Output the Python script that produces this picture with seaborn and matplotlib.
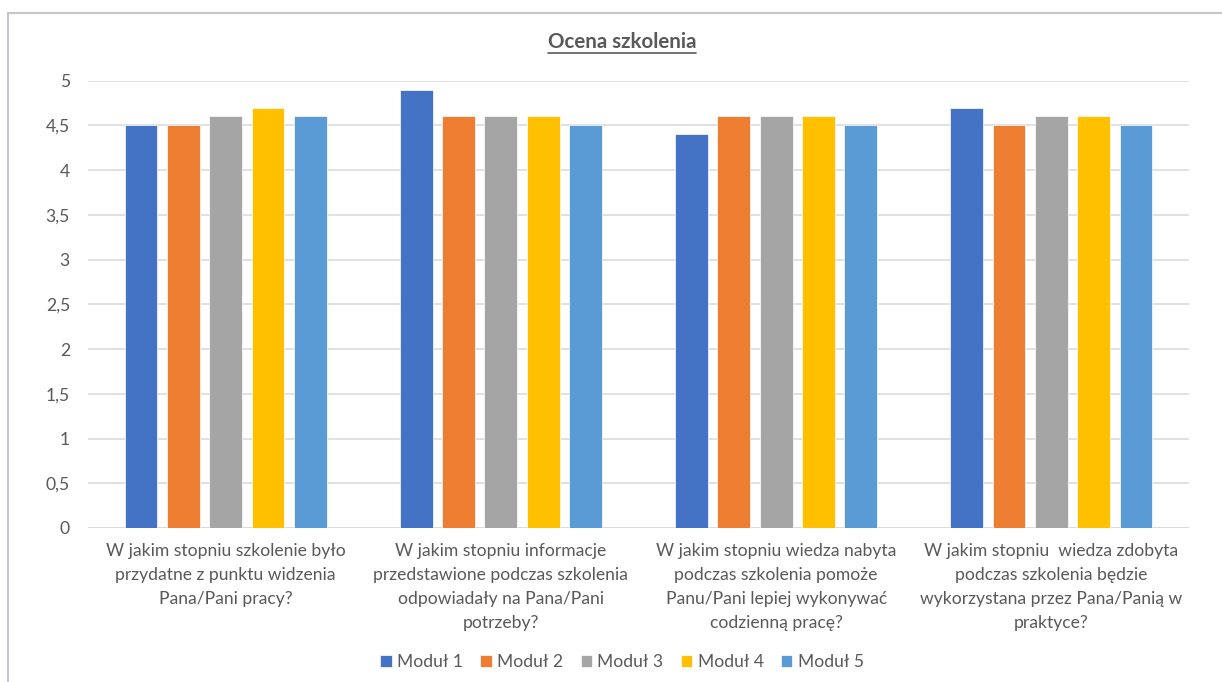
import matplotlib
matplotlib.use("Agg")
import matplotlib.pyplot as plt
from matplotlib.lines import Line2D
import seaborn as sns
import pandas as pd

categories = [
    "W jakim stopniu szkolenie było\nprzydatne z punktu widzenia\nPana/Pani pracy?",
    "W jakim stopniu informacje\nprzedstawione podczas szkolenia\nodpowiadały na Pana/Pani\npotrzeby?",
    "W jakim stopniu wiedza nabyta\npodczas szkolenia pomoże\nPanu/Pani lepiej wykonywać\ncodzienną pracę?",
    "W jakim stopniu  wiedza zdobyta\npodczas szkolenia będzie\nwykorzystana przez Pana/Panią w\npraktyce?",
]
modules = ["Moduł 1", "Moduł 2", "Moduł 3", "Moduł 4", "Moduł 5"]
modul1 = [4.5, 4.9, 4.4, 4.7]
modul2 = [4.5, 4.6, 4.6, 4.5]
modul3 = [4.6, 4.6, 4.6, 4.6]
modul4 = [4.7, 4.6, 4.6, 4.6]
modul5 = [4.6, 4.5, 4.5, 4.5]
yticks = [0, 0.5, 1, 1.5, 2, 2.5, 3, 3.5, 4, 4.5, 5]
ytick_labels = ["0", "0,5", "1", "1,5", "2", "2,5", "3", "3,5", "4", "4,5", "5"]
title = "Ocena szkolenia"
colors = ["#4472C4", "#ED7D31", "#A5A5A5", "#FFC000", "#5B9BD5"]

series = [modul1, modul2, modul3, modul4, modul5]
rows = []
for m, vals in zip(modules, series):
    for c, v in zip(categories, vals):
        rows.append({"pytanie": c, "moduł": m, "ocena": v})
df = pd.DataFrame(rows)

sns.set_theme(style="white")
plt.rcParams["font.family"] = ["Lato", "DejaVu Sans"]
text_color = "#595959"

fig = plt.figure(figsize=(12.22, 6.82), dpi=100)
ax = fig.add_axes([88 / 1222, 1 - 528 / 682, (1189 - 88) / 1222, (528 - 80.7) / 682])

sns.barplot(data=df, x="pytanie", y="ocena", hue="moduł", order=categories,
            hue_order=modules, palette=colors, saturation=1, width=0.768,
            gap=0.225, edgecolor="white", linewidth=0.5, ax=ax, legend=True,
            zorder=3)

ax.set_ylim(0, 5)
ax.set_yticks(yticks)
ax.set_yticklabels(ytick_labels)
ax.yaxis.grid(True, color="#D9D9D9", linewidth=1.1, zorder=0)
ax.set_axisbelow(True)
for s in ax.spines.values():
    s.set_visible(False)
ax.axhline(0, color="#D9D9D9", linewidth=1.1, zorder=1)
ax.set_xlabel("")
ax.set_ylabel("")
ax.tick_params(axis="both", length=0, colors=text_color, labelsize=12.6)
ax.tick_params(axis="y", pad=13)
ax.tick_params(axis="x", pad=11)
for lab in ax.get_xticklabels():
    lab.set_multialignment("center")
    lab.set_linespacing(1.6)
    lab.set_color(text_color)

handles, labels = ax.get_legend_handles_labels()
ax.get_legend().remove()
leg = fig.legend(handles, labels, loc="center", bbox_to_anchor=(622 / 1222, 1 - 662 / 682),
                 ncol=5, frameon=False, fontsize=12.6, handlelength=0.65, handleheight=0.65,
                 handletextpad=0.3, columnspacing=1.0)
for t in leg.get_texts():
    t.set_color(text_color)

tt = fig.text(622 / 1222, 1 - 42 / 682, title, ha="center", va="center",
              fontsize=14.8, fontweight="bold", color=text_color)
fig.canvas.draw()
bb = tt.get_window_extent(renderer=fig.canvas.get_renderer())
W, H = fig.bbox.width, fig.bbox.height
uy = (bb.y0 - 1.0) / H
fig.add_artist(Line2D([bb.x0 / W, bb.x1 / W], [uy, uy], color=text_color, linewidth=1.2))

# chart frame (left and top edges visible)
bc = "#C3C7CB"
fig.add_artist(Line2D([8 / 1222, 8 / 1222], [0, 1 - 13 / 682], color=bc, linewidth=1.5))
fig.add_artist(Line2D([8 / 1222, 1], [1 - 13 / 682, 1 - 13 / 682], color=bc, linewidth=1.5))

fig.savefig("out.png", dpi=100)
